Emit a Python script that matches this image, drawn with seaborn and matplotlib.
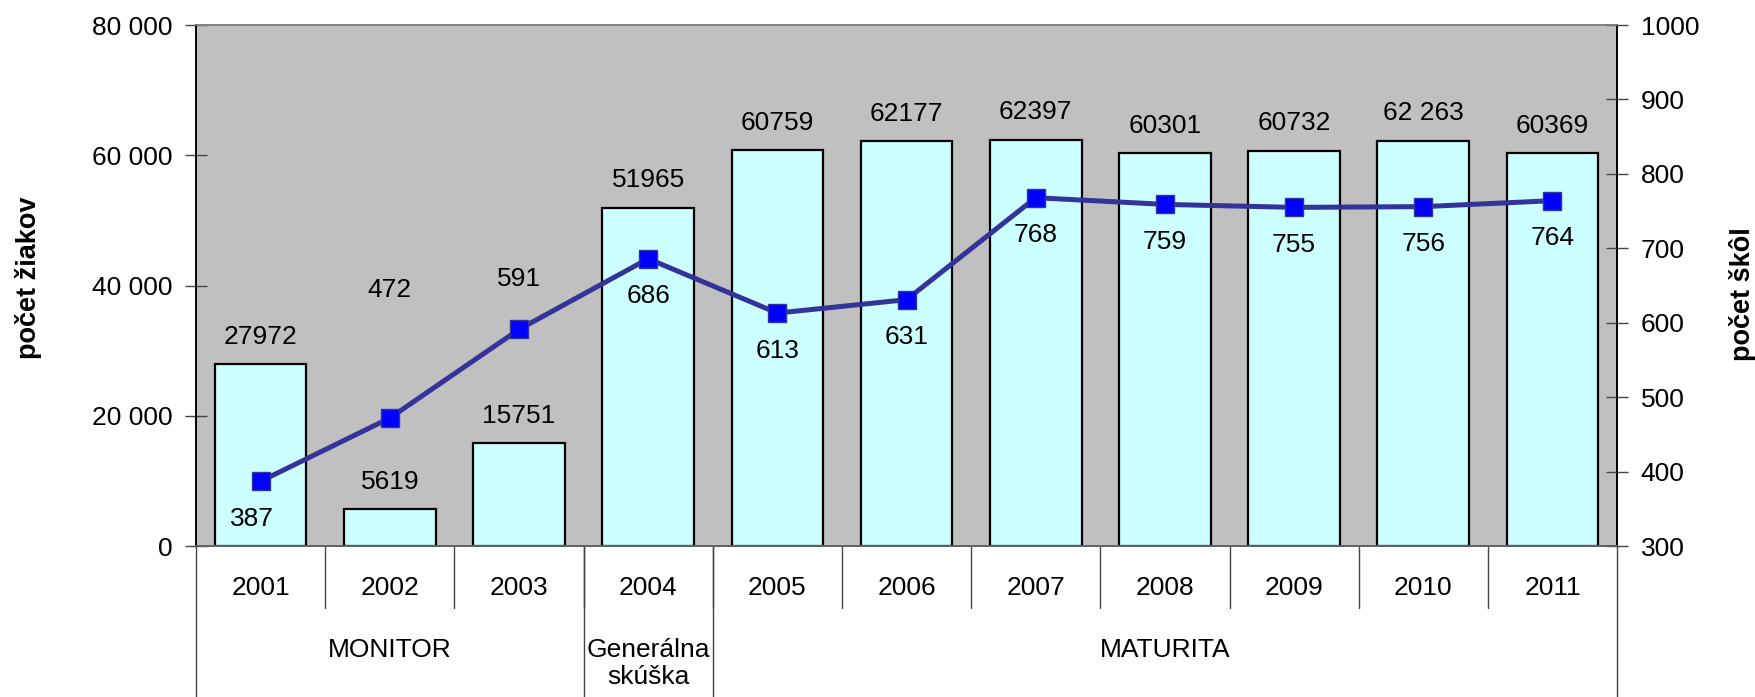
import numpy as np
import pandas as pd
import seaborn as sns
import matplotlib.pyplot as plt
import matplotlib.transforms as mtransforms

# údaje z grafu
years = ['2001', '2002', '2003', '2004', '2005', '2006', '2007', '2008', '2009', '2010', '2011']
students = [27972, 5619, 15751, 51965, 60759, 62177, 62397, 60301, 60732, 62263, 60369]
student_labels = ['27972', '5619', '15751', '51965', '60759', '62177', '62397',
                  '60301', '60732', '62 263', '60369']
schools = [387, 472, 591, 686, 613, 631, 768, 759, 755, 756, 764]
groups = ['MONITOR', 'Generálna\nskúška', 'MATURITA']
group_sizes = [3, 1, 7]

# posun popiskov bodov čiary (v bodoch)
school_label_offsets = [(-6, -27), (0, 92), (0, 36), (0, -27), (0, -27), (0, -27),
                        (0, -27), (0, -27), (0, -27), (0, -27), (0, -27)]

FS = 19

sns.set_style('white')
plt.rcParams['font.family'] = ['Liberation Sans', 'DejaVu Sans']
plt.rcParams['text.color'] = 'black'
plt.rcParams['axes.labelcolor'] = 'black'
plt.rcParams['xtick.color'] = 'black'
plt.rcParams['ytick.color'] = 'black'

df = pd.DataFrame({'rok': years, 'ziaci': students, 'skoly': schools})
df['pos'] = np.arange(len(df))

fig = plt.figure(figsize=(17.55, 6.97), dpi=100)
ax = fig.add_axes([0.1117, 0.2166, 0.8097, 0.7475])
ax.set_facecolor('#C0C0C0')

sns.barplot(data=df, x='rok', y='ziaci', color='#CCFFFF', saturation=1,
            edgecolor='black', linewidth=1.6, width=0.71, ax=ax)
ax.bar_label(ax.containers[0], labels=student_labels, padding=11, fontsize=FS)

ax.set_ylim(0, 80000)
ax.set_yticks(np.arange(0, 80001, 20000))
ax.set_yticklabels([f'{int(v):,}'.replace(',', ' ') for v in ax.get_yticks()], fontsize=FS)
ax.set_xlim(-0.5, len(years) - 0.5)
ax.set_xticks(np.arange(0.5, len(years) - 1, 1))
ax.set_xticklabels([])
ax.tick_params(axis='x', direction='inout', length=12, width=1, color='#333333')
ax.tick_params(axis='y', direction='inout', length=16, width=1, color='#444444', pad=9)
ax.set_xlabel('')
ax.set_ylabel('')

ax2 = ax.twinx()
sns.lineplot(data=df, x='pos', y='skoly', color='#333399', linewidth=3.6,
             marker='s', markersize=13.5, markerfacecolor='#0000FF',
             markeredgecolor='#333399', markeredgewidth=1, ax=ax2)
for x, v, off in zip(df['pos'], schools, school_label_offsets):
    ax2.annotate(str(v), (x, v), xytext=off, textcoords='offset points',
                 ha='center', va='center', fontsize=FS)
ax2.set_ylim(300, 1000)
ax2.set_yticks(np.arange(300, 1001, 100))
ax2.tick_params(axis='y', direction='inout', length=16, width=1, color='#444444',
                labelsize=FS, pad=9)
ax2.set_xlim(-0.5, len(years) - 0.5)
ax2.set_xlabel('')
ax2.set_ylabel('')

# názvy osí
fig.text(0.016, 1 - 278 / 697, 'počet žiakov', rotation=90, ha='center', va='center',
         fontsize=19.5, fontweight='bold')
fig.text(0.9926, 1 - 294 / 697, 'počet škôl', rotation=90, ha='center', va='center',
         fontsize=19.5, fontweight='bold')

for a in (ax, ax2):
    a.spines['left'].set_color('black')
    a.spines['right'].set_color('black')
    a.spines['top'].set_color('#808080')
    a.spines['bottom'].set_color('#606060')
    for s in a.spines.values():
        s.set_linewidth(1.2)

# kategórie pod osou
trans = mtransforms.blended_transform_factory(ax.transData, ax.transAxes)
for i, y in enumerate(years):
    ax.text(i, -0.08, y, transform=trans, ha='center', va='center', fontsize=FS)
for b in np.arange(0.5, len(years) - 1, 1):
    ax.plot([b, b], [0, -0.119], transform=trans, color='#444444', lw=1, clip_on=False)

start = 0
bounds = [-0.5]
for g, n in zip(groups, group_sizes):
    center = start + (n - 1) / 2
    if '\n' in g:
        ax.text(center, -0.225, g, transform=trans, ha='center', va='center',
                fontsize=FS, linespacing=1.15)
    else:
        ax.text(center, -0.2, g, transform=trans, ha='center', va='center', fontsize=FS)
    start += n
    bounds.append(start - 0.5)
for b in bounds:
    ax.plot([b, b], [0, -0.3], transform=trans, color='#444444', lw=1, clip_on=False)

fig.savefig('out.png', dpi=100)
